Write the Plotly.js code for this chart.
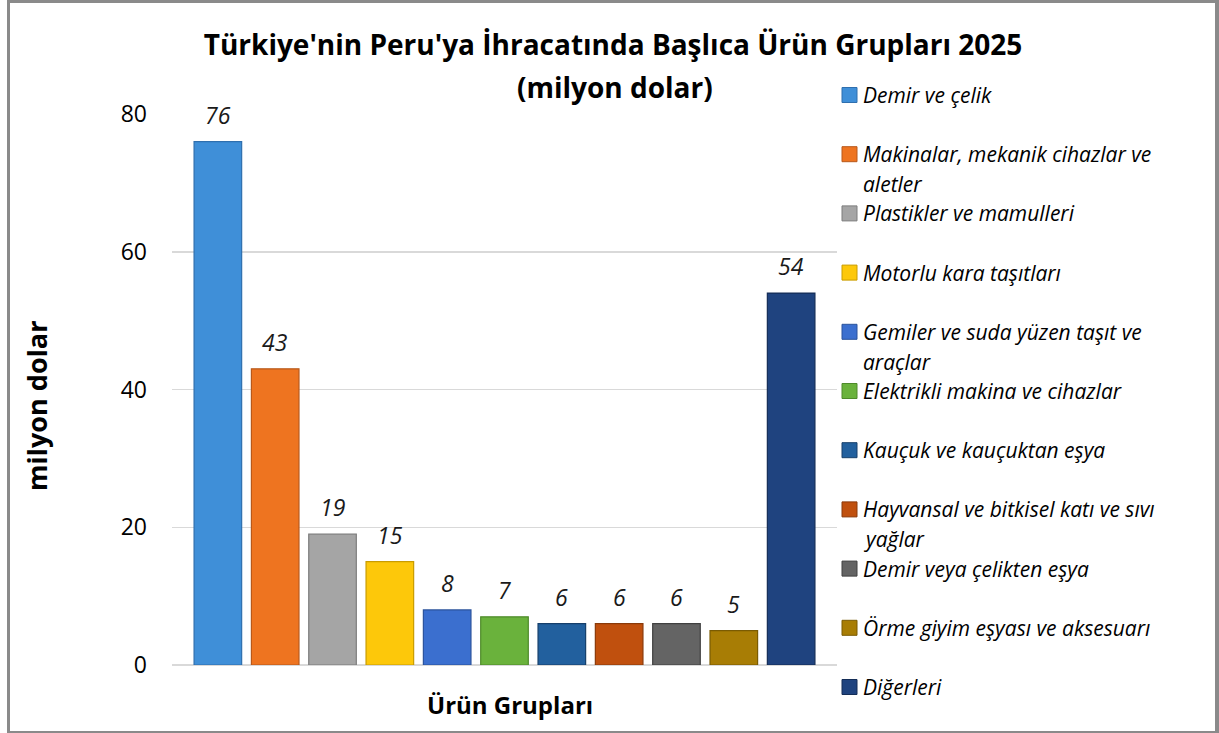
<!DOCTYPE html>
<html>
<head>
<meta charset="utf-8">
<script src="https://cdn.plot.ly/plotly-3.0.1.min.js"></script>
<style>
html,body{margin:0;padding:0;background:#fff;}
#wrap{position:relative;width:1219px;height:733px;}
#chart{position:absolute;left:0;top:0;width:1219px;height:733px;}
#frame{position:absolute;left:7px;top:0px;width:1205px;height:728px;border:3px solid #8a8a8a;border-right-width:4px;pointer-events:none;}
</style>
</head>
<body>
<div id="wrap"><div id="chart"></div><div id="frame"></div></div>
<script>
const categories = [
  "Demir ve çelik",
  "Makinalar, mekanik cihazlar ve<br>aletler",
  "Plastikler ve mamulleri",
  "Motorlu kara taşıtları",
  "Gemiler ve suda yüzen taşıt ve<br>araçlar",
  "Elektrikli makina ve cihazlar",
  "Kauçuk ve kauçuktan eşya",
  "Hayvansal ve bitkisel katı ve sıvı<br>yağlar",
  "Demir veya çelikten eşya",
  "Örme giyim eşyası ve aksesuarı",
  "Diğerleri"
];
const values = [76, 43, 19, 15, 8, 7, 6, 6, 6, 5, 54];
const colors = ["#3f8fd8","#ee7420","#a5a5a5","#fdc80a","#3b6fcf","#6ab23c","#22609e","#c0500e","#646464","#a87d05","#1f437f"];
const borderColors = ["#2f6fae","#b8581a","#7d7d7d","#c99c00","#2b539c","#4e8a2a","#163f6b","#8a3a0a","#404040","#7a5b02","#142d57"];
const yTicks = [0, 20, 40, 60, 80];
const titleLine1 = "Türkiye'nin Peru'ya İhracatında Başlıca Ürün Grupları 2025";
const titleLine2 = "(milyon dolar)";
const xTitle = "Ürün Grupları";
const yTitle = "milyon dolar";

const W = 1219, H = 733;
const L = 172, R = 837, T = 114, B = 665;
const FONT = "Open Sans, Noto Sans, sans-serif";
const px2x = p => (p - L) / (R - L);
const px2y = p => (B - p) / (B - T);

const traces = categories.map((c, i) => ({
  type: 'bar',
  name: c.replace('<br>', ' '),
  x: [i],
  y: [values[i]],
  width: 0.83,
  marker: {color: colors[i], line: {color: borderColors[i], width: 1.2}},
  showlegend: false,
  hoverinfo: 'name+y'
}));

const annotations = [];
// data labels
values.forEach((v, i) => {
  annotations.push({
    x: i, y: v, xref: 'x', yref: 'y', text: String(v), showarrow: false,
    yanchor: 'middle', yshift: 27,
    font: {family: FONT, size: 23, color: '#1a1a1a', style: 'italic'}
  });
});
// title second line
annotations.push({
  x: px2x(615), y: px2y(87), xref: 'paper', yref: 'paper', text: '<b>' + titleLine2 + '</b>',
  showarrow: false, xanchor: 'center', yanchor: 'middle',
  font: {family: FONT, size: 28, color: '#000'}
});
// axis titles
annotations.push({
  x: px2x(510), y: px2y(704), xref: 'paper', yref: 'paper', text: '<b>' + xTitle + '</b>',
  showarrow: false, xanchor: 'center', yanchor: 'middle',
  font: {family: FONT, size: 24, color: '#000'}
});
annotations.push({
  x: px2x(36), y: px2y(406), xref: 'paper', yref: 'paper', text: '<b>' + yTitle + '</b>',
  showarrow: false, xanchor: 'center', yanchor: 'middle', textangle: -90,
  font: {family: FONT, size: 27, color: '#000'}
});
// custom legend
const shapes = [];
const legTop = 95, legStep = 59.2, lineGap = 30;
categories.forEach((c, i) => {
  const cy = legTop + i * legStep;
  shapes.push({
    type: 'rect', xref: 'paper', yref: 'paper',
    x0: px2x(842), x1: px2x(857), y0: px2y(cy - 7.5), y1: px2y(cy + 7.5),
    fillcolor: colors[i], line: {color: borderColors[i], width: 1}
  });
  c.split('<br>').forEach((ln, k) => {
    annotations.push({
      x: px2x(862), y: px2y(cy + k * lineGap), xref: 'paper', yref: 'paper',
      text: ln, showarrow: false, xanchor: 'left', yanchor: 'middle', borderpad: 0,
      font: {family: FONT, size: 21, color: '#000', style: 'italic'}
    });
  });
});

const layout = {
  width: W, height: H,
  margin: {l: L, r: W - R, t: T, b: H - B, pad: 0},
  paper_bgcolor: '#ffffff', plot_bgcolor: '#ffffff',
  title: {
    text: '<b>' + titleLine1 + '</b>',
    x: 613 / W, xanchor: 'center', y: 1 - 45 / H, yanchor: 'middle',
    font: {family: FONT, size: 28, color: '#000'}
  },
  xaxis: {
    range: [-0.8, 10.8], showticklabels: false, showgrid: false, zeroline: false,
    showline: false, fixedrange: true
  },
  yaxis: {
    range: [0, 80], tickvals: yTicks, ticktext: yTicks.map(String),
    showgrid: true, gridcolor: '#d9d9d9', gridwidth: 1.5,
    zeroline: true, zerolinecolor: '#d9d9d9', zerolinewidth: 1.5,
    showline: false, ticks: '', ticklabelstandoff: 24,
    tickfont: {family: FONT, size: 23, color: '#000'}
  },
  barmode: 'overlay',
  annotations: annotations,
  shapes: shapes,
  showlegend: false
};

Plotly.newPlot('chart', traces, layout, {displayModeBar: false, staticPlot: true});
</script>
</body>
</html>
